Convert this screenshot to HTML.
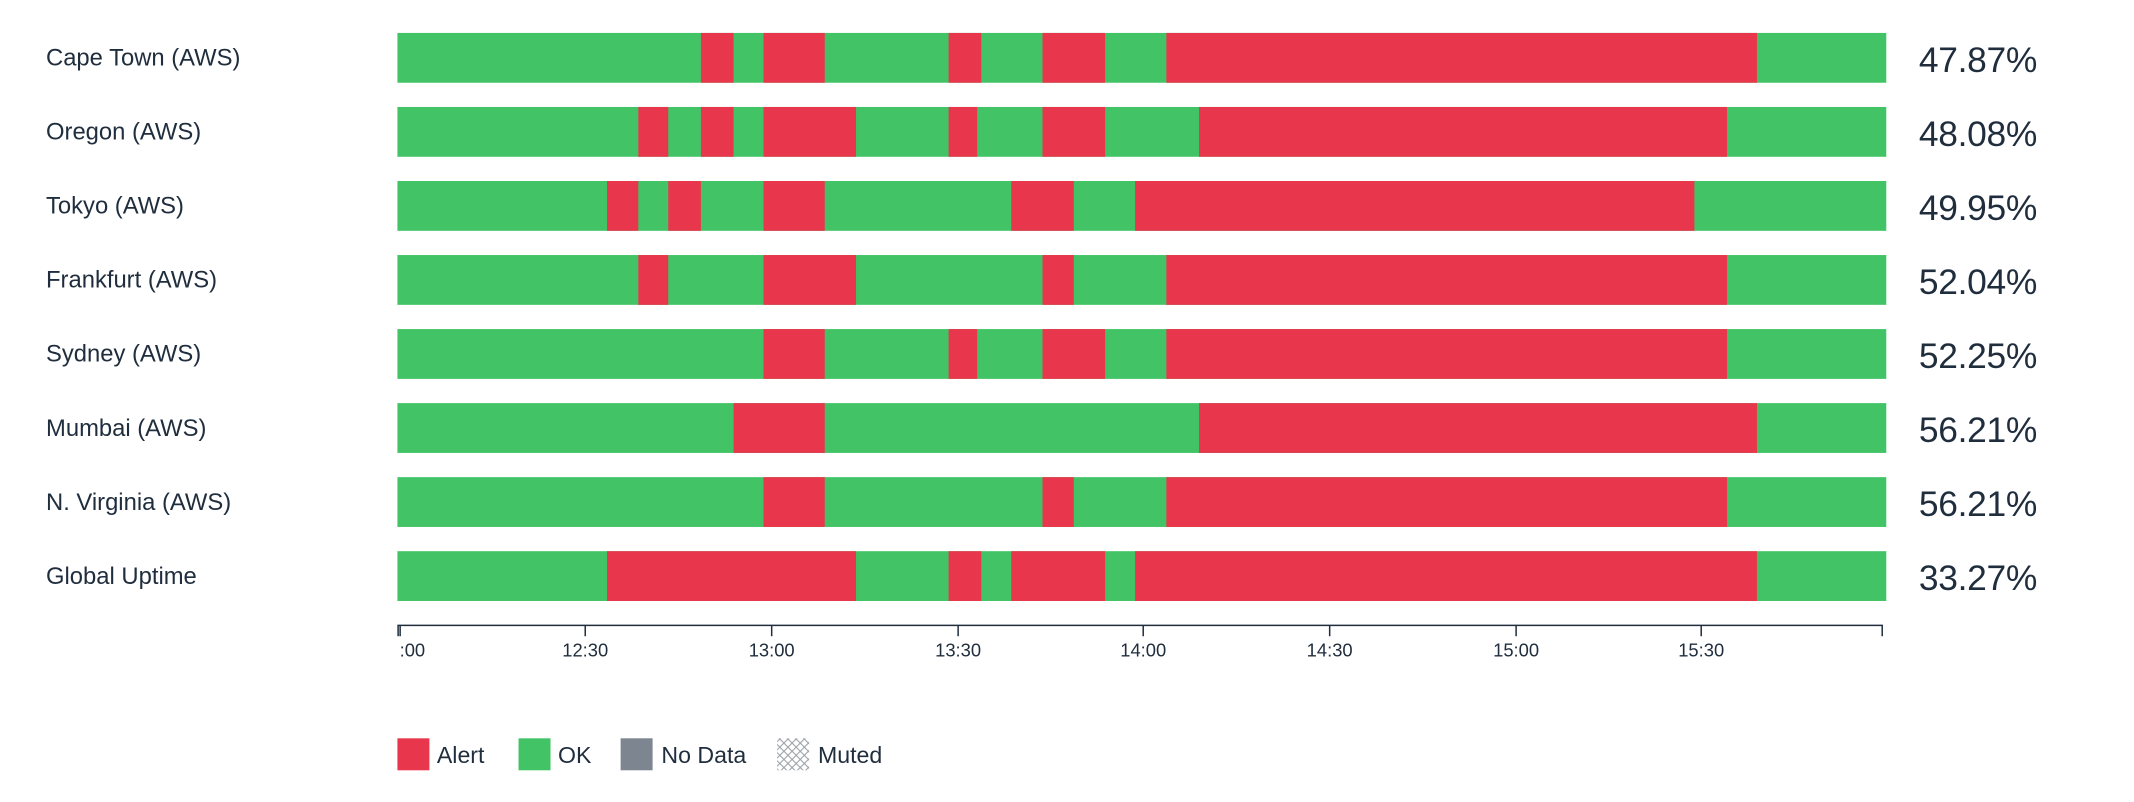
<!DOCTYPE html>
<html><head><meta charset="utf-8"><style>html,body{margin:0;padding:0;background:#fff}svg{display:block}</style></head>
<body>
<svg width="2134" height="802" viewBox="0 0 1568 589.3" xmlns="http://www.w3.org/2000/svg">
<defs>
<pattern id="hatch" width="6" height="6" patternUnits="userSpaceOnUse">
<path d="M0,0 L6,6 M6,0 L0,6" stroke="#9aa0a6" stroke-width="0.8"/>
</pattern>
</defs>
<g font-family="Liberation Sans, sans-serif" fill="#1f2d3d">
<g font-size="17.5">
<text x="33.8" y="48.2">Cape Town (AWS)</text>
<text x="33.8" y="102.6">Oregon (AWS)</text>
<text x="33.8" y="157">Tokyo (AWS)</text>
<text x="33.8" y="211.4">Frankfurt (AWS)</text>
<text x="33.8" y="265.8">Sydney (AWS)</text>
<text x="33.8" y="320.2">Mumbai (AWS)</text>
<text x="33.8" y="374.6">N. Virginia (AWS)</text>
<text x="33.8" y="429">Global Uptime</text>
</g>
<g font-size="26">
<text x="1410" y="52.9" textLength="87">47.87%</text>
<text x="1410" y="107.3" textLength="87">48.08%</text>
<text x="1410" y="161.7" textLength="87">49.95%</text>
<text x="1410" y="216.1" textLength="87">52.04%</text>
<text x="1410" y="270.5" textLength="87">52.25%</text>
<text x="1410" y="324.9" textLength="87">56.21%</text>
<text x="1410" y="379.3" textLength="87">56.21%</text>
<text x="1410" y="433.7" textLength="87">33.27%</text>
</g>
</g>
<g fill="#42c466">
<rect x="292" y="24.2" width="1094" height="36.6"/>
<rect x="292" y="78.6" width="1094" height="36.6"/>
<rect x="292" y="133" width="1094" height="36.6"/>
<rect x="292" y="187.4" width="1094" height="36.6"/>
<rect x="292" y="241.8" width="1094" height="36.6"/>
<rect x="292" y="296.2" width="1094" height="36.6"/>
<rect x="292" y="350.6" width="1094" height="36.6"/>
<rect x="292" y="405" width="1094" height="36.6"/>
</g>
<g fill="#e8374c">
<g transform="translate(0,24.2)">
<rect x="515" width="24" height="36.6"/><rect x="561" width="45" height="36.6"/><rect x="697" width="24" height="36.6"/><rect x="766" width="46" height="36.6"/><rect x="857" width="434" height="36.6"/>
</g>
<g transform="translate(0,78.6)">
<rect x="469" width="22" height="36.6"/><rect x="515" width="24" height="36.6"/><rect x="561" width="68" height="36.6"/><rect x="697" width="21" height="36.6"/><rect x="766" width="46" height="36.6"/><rect x="881" width="388" height="36.6"/>
</g>
<g transform="translate(0,133)">
<rect x="446" width="23" height="36.6"/><rect x="491" width="24" height="36.6"/><rect x="561" width="45" height="36.6"/><rect x="743" width="46" height="36.6"/><rect x="834" width="411" height="36.6"/>
</g>
<g transform="translate(0,187.4)">
<rect x="469" width="22" height="36.6"/><rect x="561" width="68" height="36.6"/><rect x="766" width="23" height="36.6"/><rect x="857" width="412" height="36.6"/>
</g>
<g transform="translate(0,241.8)">
<rect x="561" width="45" height="36.6"/><rect x="697" width="21" height="36.6"/><rect x="766" width="46" height="36.6"/><rect x="857" width="412" height="36.6"/>
</g>
<g transform="translate(0,296.2)">
<rect x="539" width="67" height="36.6"/><rect x="881" width="410" height="36.6"/>
</g>
<g transform="translate(0,350.6)">
<rect x="561" width="45" height="36.6"/><rect x="766" width="23" height="36.6"/><rect x="857" width="412" height="36.6"/>
</g>
<g transform="translate(0,405)">
<rect x="446" width="183" height="36.6"/><rect x="697" width="24" height="36.6"/><rect x="743" width="69" height="36.6"/><rect x="834" width="457" height="36.6"/>
</g>
</g>
<g stroke="#1f2d3d" stroke-width="1.1">
<line x1="292" y1="459.5" x2="1383.5" y2="459.5"/>
<line x1="292.5" y1="459.5" x2="292.5" y2="467.5"/>
<line x1="294" y1="459.5" x2="294" y2="467.5"/>
<line x1="430" y1="459.5" x2="430" y2="467.5"/>
<line x1="567" y1="459.5" x2="567" y2="467.5"/>
<line x1="704" y1="459.5" x2="704" y2="467.5"/>
<line x1="840" y1="459.5" x2="840" y2="467.5"/>
<line x1="977" y1="459.5" x2="977" y2="467.5"/>
<line x1="1114" y1="459.5" x2="1114" y2="467.5"/>
<line x1="1250" y1="459.5" x2="1250" y2="467.5"/>
<line x1="1383" y1="459.5" x2="1383" y2="467.5"/>
</g>
<g font-family="Liberation Sans, sans-serif" font-size="13.5" fill="#1f2d3d" text-anchor="middle">
<text x="303" y="482.5">:00</text>
<text x="430" y="482.5">12:30</text>
<text x="567" y="482.5">13:00</text>
<text x="704" y="482.5">13:30</text>
<text x="840" y="482.5">14:00</text>
<text x="977" y="482.5">14:30</text>
<text x="1114" y="482.5">15:00</text>
<text x="1250" y="482.5">15:30</text>
</g>
<rect x="292" y="542.5" width="23.5" height="23.5" fill="#e8374c"/>
<rect x="381" y="542.5" width="23.5" height="23.5" fill="#42c466"/>
<rect x="456" y="542.5" width="23.5" height="23.5" fill="#7d8590"/>
<rect x="571" y="542.5" width="23.5" height="23.5" fill="url(#hatch)"/>
<g font-family="Liberation Sans, sans-serif" font-size="17" fill="#1f2d3d">
<text x="321" y="560.5">Alert</text>
<text x="410" y="560.5">OK</text>
<text x="486" y="560.5">No Data</text>
<text x="601" y="560.5">Muted</text>
</g>
</svg>
</body></html>
